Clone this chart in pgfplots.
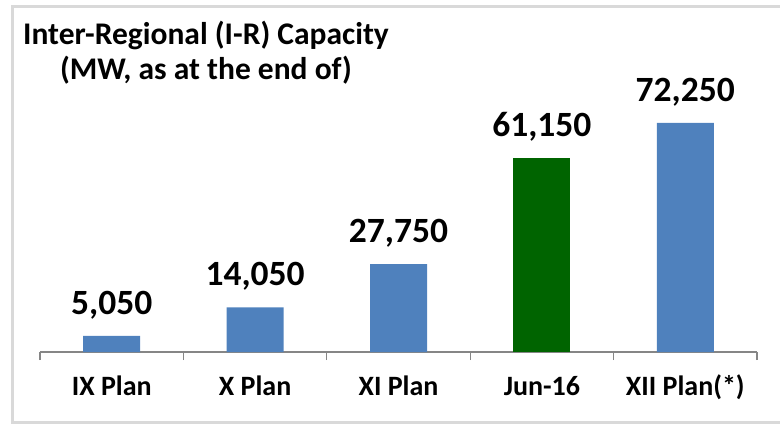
\documentclass[border=0pt]{standalone}
\usepackage{fontspec}
\setmainfont{Carlito}
\usepackage{pgfplots}
\pgfplotsset{compat=1.18}
\definecolor{barblue}{HTML}{4F81BD}
\definecolor{bargreen}{HTML}{006400}
\definecolor{framegray}{HTML}{D9D9D9}
\definecolor{axisgray}{HTML}{868686}
\begin{document}
\begin{tikzpicture}
\useasboundingbox (0pt,0pt) rectangle (780pt,426pt);
\draw[framegray, line width=3pt] (795pt,419.5pt) -- (12.5pt,419.5pt) -- (12.5pt,3pt) -- (795pt,3pt);
\node[anchor=base, font=\fontsize{31.5}{35}\selectfont\bfseries] at (206pt,381pt) {Inter-Regional (I-R) Capacity};
\node[anchor=base, font=\fontsize{31.5}{35}\selectfont\bfseries] at (206pt,346pt) {(MW, as at the end of)};
\begin{axis}[
  at={(40pt,74pt)}, anchor=south west,
  scale only axis, width=717pt, height=253.6pt,
  xmin=-0.5, xmax=4.5, ymin=0, ymax=80000,
  axis x line*=bottom, axis y line=none,
  axis line style={axisgray, line width=1.2pt},
  xtick={0,1,2,3,4},
  xticklabels={IX Plan, X Plan, XI Plan, Jun-16, XII Plan(*)},
  major tick length=0pt,
  xticklabel style={anchor=base, yshift=-43.5pt, font=\fontsize{28}{31}\selectfont\bfseries},
  extra x ticks={-0.5,0.5,1.5,2.5,3.5,4.5},
  extra x tick labels={},
  extra x tick style={major tick length=8pt, tick align=outside, tick style={axisgray, line width=1.2pt}},
  ybar, bar width=57pt,
  nodes near coords={\pgfmathprintnumber[assume math mode=true, fixed, 1000 sep={,}]{\pgfplotspointmeta}},
  nodes near coords style={anchor=base, yshift=21.5pt, inner sep=0pt, font=\fontsize{35.5}{40}\selectfont\bfseries, text=black},
  clip=false,
]
\addplot[fill=barblue, draw=none, bar shift=0pt] coordinates {(0,5050) (1,14050) (2,27750) (4,72250)};
\addplot[fill=bargreen, draw=none, bar shift=0pt] coordinates {(3,61150)};
\end{axis}
\end{tikzpicture}
\end{document}
